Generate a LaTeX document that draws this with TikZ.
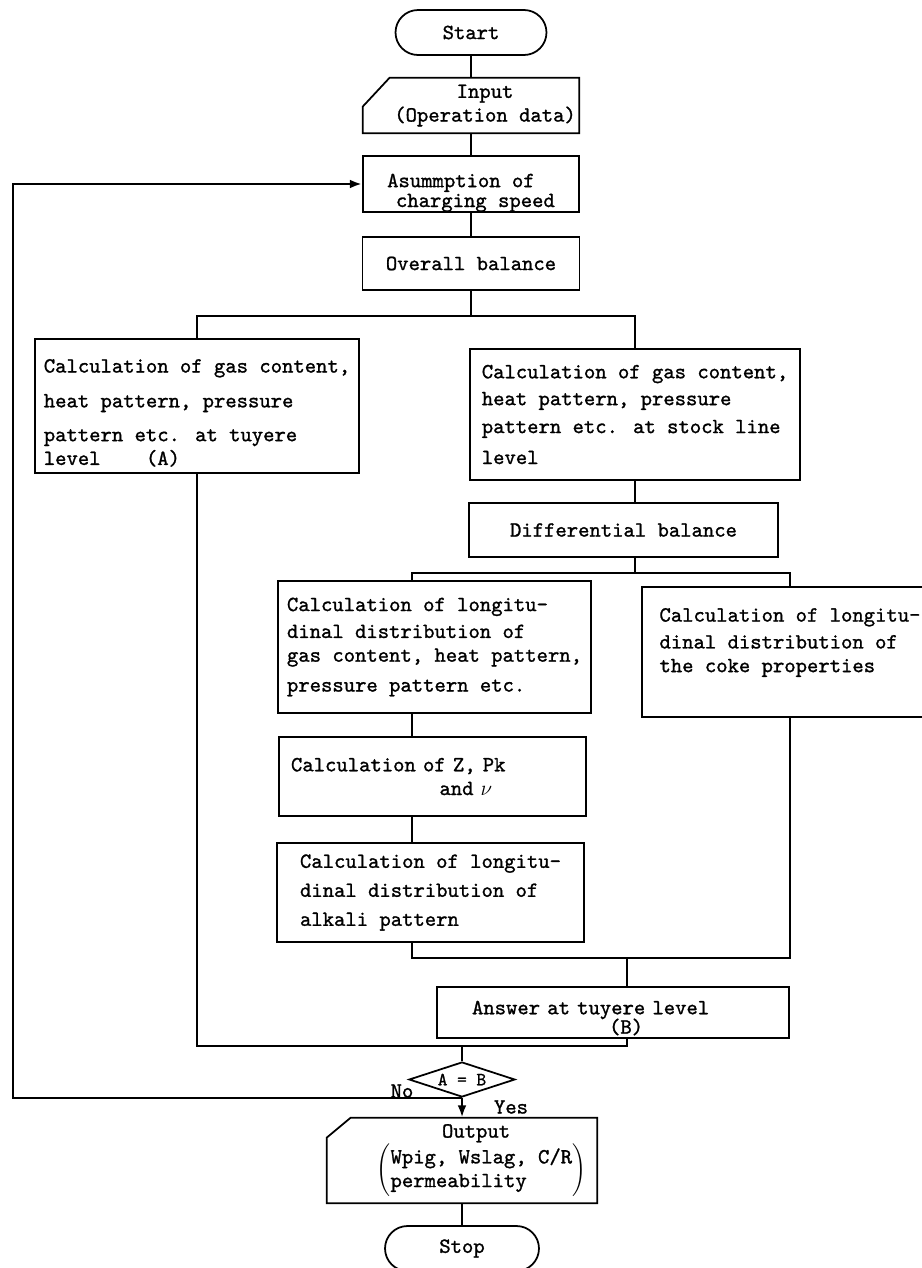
\documentclass[tikz,border=0pt]{standalone}
\usepackage{fontspec}
\usepackage{tikz}
\usetikzlibrary{arrows.meta,shapes.geometric}

\newfontfamily\typewr{lmmono10-regular}[Extension=.otf, RawFeature={embolden=1.2}]
\newcommand{\tyfont}{\fontsize{12.3}{13.5}\selectfont\typewr}

\tikzset{
  box/.style={draw, line width=1pt, font=\tyfont, align=left, inner sep=0pt},
  term/.style={draw, line width=1pt, font=\tyfont, rounded corners=0.45cm, inner sep=0pt},
  io/.style={font=\tyfont, align=center, inner sep=0pt},
  flow/.style={line width=1.5pt},
  arr/.style={line width=1.5pt, -{Latex[length=7pt,width=5pt]}},
}

\begin{document}
\begin{tikzpicture}[x=0.02cm, y=-0.02cm]
    \useasboundingbox (0,0) rectangle (922,1268);

    % main column
    \node[term, minimum width=3.02cm, minimum height=0.9cm] (start) at (471,32.5) {Start};
    \node[io, minimum width=4.32cm, minimum height=1.1cm] (input) at (471,105.5) {\hspace*{16pt}Input\\\hspace*{16pt}(Operation data)};
    \draw[line width=1pt] ([yshift=-0.58cm]input.north west) -- ([xshift=0.54cm]input.north west) -- (input.north east) -- (input.south east) -- (input.south west) -- cycle;
    \node[box, minimum width=4.32cm, minimum height=1.08cm] (assume) at (471,184) {\mbox{}\\[4.2pt]Asummption of\\[-2.2pt]\hspace*{5pt}charging speed};
    \node[box, minimum width=4.34cm, minimum height=1.06cm] (overall) at (471,263.5) {Overall balance};

    % two branches
    \node[box, minimum width=6.48cm, minimum height=2.68cm] (tuyA) at (197,406) {\mbox{}\\[2pt]Calculation of gas content,\\[6.3pt]heat pattern, pressure\\[5.8pt]pattern etc. at tuyere\\level~~~~(A)};
    \node[box, minimum width=6.6cm, minimum height=2.62cm] (stock) at (635,414.5) {Calculation of gas content,\\[1.8pt]heat pattern, pressure\\[2.4pt]pattern etc. at stock line\\[4.1pt]level};
    \node[box, minimum width=6.18cm, minimum height=1.08cm] (diff) at (623.5,530) {Differential balance};

    \node[box, minimum width=6.26cm, minimum height=2.64cm] (gasdist) at (434.5,647) {Calculation of longitu-\\[1.8pt]dinal distribution of\\gas content, heat pattern,\\[3.5pt]pressure pattern etc.};
    \node[box, minimum width=5.92cm, minimum height=2.6cm] (coke) at (790,652) {Calculation of longitu-\\[1.8pt]dinal distribution of\\the coke properties\\\mbox{}};
    \node[box, minimum width=6.14cm, minimum height=1.58cm, text width=5.66cm, inner xsep=0.24cm] (zpk) at (432.5,776.5) {Calculation of Z, Pk\\\hspace*{84.5pt}and $\nu$};
    \node[box, minimum width=6.14cm, minimum height=1.98cm] (alkali) at (430.5,892.5) {Calculation of longitu-\\[3pt]dinal distribution of\\[3pt]alkali pattern};
    \node[box, minimum width=7.04cm, minimum height=1.02cm, text width=5.64cm, inner xsep=0.7cm] (answer) at (613,1012.5) {\mbox{}\\[0.5pt]Answer at tuyere level\\[-2.5pt]\hspace*{78pt}(B)};

    % test and end
    \node[diamond, draw, line width=1pt, aspect=3, minimum width=2.12cm, minimum height=0.7cm, inner sep=0pt, font=\fontsize{10.5}{12}\selectfont\typewr] (check) at (462,1079.5) {A = B};
    \node[io, minimum width=5.4cm, minimum height=1.7cm] (output) at (462,1160.5) {\hspace*{16pt}Output\\\hspace*{22pt}$\left(\begin{tabular}{@{}l@{}}Wpig, Wslag, C/R\\permeability\end{tabular}\right)$};
    \draw[line width=1pt] ([yshift=-0.4cm]output.north west) -- ([xshift=0.48cm]output.north west) -- (output.north east) -- (output.south east) -- (output.south west) -- cycle;
    \node[term, minimum width=3.08cm, minimum height=0.9cm] (stop) at (462,1248.5) {Stop};

    \node[font=\tyfont] (nolab) at (402,1091) {No};
    \node[font=\tyfont] (yeslab) at (511,1107) {Yes};

    % connectors
    \coordinate (split1) at (471,316);
    \coordinate (split2) at (635,573);
    \coordinate (lcol) at (412,573);
    \coordinate (merge1) at (627,958);
    \coordinate (merge2) at (462,1046);
    \coordinate (back) at (462,1098);
    \coordinate (corner) at (13,1098);

    \draw[flow] (start) -- (input);
    \draw[flow] (input) -- (assume);
    \draw[flow] (assume) -- (overall);
    \draw[flow] (overall) -- (split1);
    \draw[flow] (tuyA.north) |- (split1) -| (stock.north);
    \draw[flow] (stock.south) -- (stock.south |- diff.north);
    \draw[flow] (diff.south -| stock.south) -- (split2);
    \draw[flow] (gasdist.north -| lcol) -- (lcol) -- (split2) -| (coke.north);
    \draw[flow] (gasdist.south -| lcol) -- (zpk.north -| lcol);
    \draw[flow] (zpk.south -| lcol) -- (alkali.north -| lcol);
    \draw[flow] (alkali.south -| lcol) |- (merge1) -- (coke.south |- merge1) -- (coke.south);
    \draw[flow] (merge1) -- (answer.north -| merge1);
    \draw[flow] (answer.south -| merge1) |- (merge2) -- (tuyA.south |- merge2) -- (tuyA.south);
    \draw[flow] (merge2) -- (check.north);
    \draw[arr] (check.south) -- (output.north);
    \draw[arr] (back) -- (corner) |- (assume.west);
    \draw[flow] (output) -- (stop);
\end{tikzpicture}
\end{document}
